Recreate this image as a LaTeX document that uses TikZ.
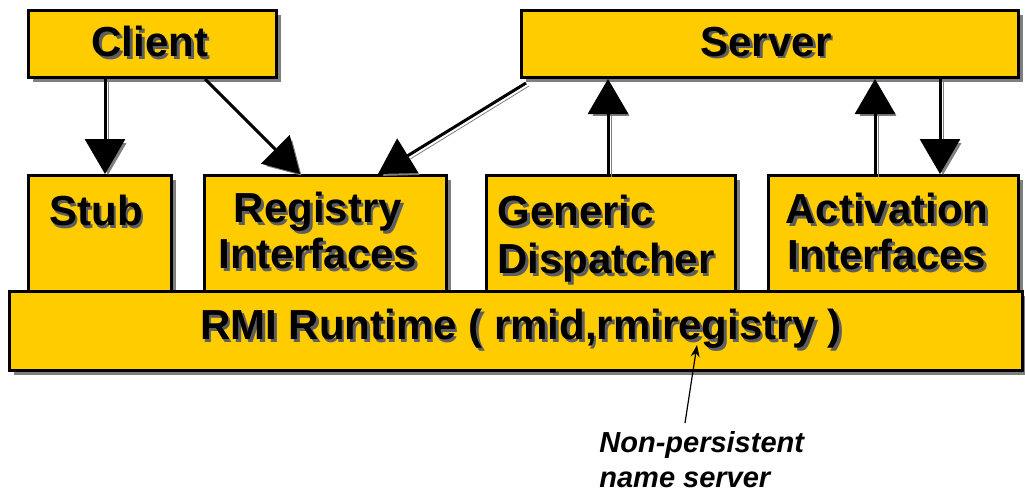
\documentclass[tikz,border=0pt]{standalone}
\usepackage{fontspec}
\setmainfont{Liberation Sans}
\usetikzlibrary{arrows.meta,shadows}
\definecolor{rmigold}{HTML}{FFCC00}
\definecolor{shadegray}{HTML}{5E5E5E}
\newcommand\shtxt[1]{\leavevmode\rlap{\kern1.3pt\raisebox{-1.3pt}{\textcolor{shadegray}{#1}}}#1}

\begin{document}
\begin{tikzpicture}[x=0.5pt,y=-0.5pt,
  box/.style={draw=black,line width=1.5pt,fill=rmigold,anchor=north west,inner sep=0pt,
    drop shadow={shadow xshift=2.1pt,shadow yshift=-2.1pt,fill=shadegray!80,opacity=1}},
  boxtext/.style={font=\fontsize{21}{23}\selectfont\bfseries,inner sep=0pt,align=center},
  arr/.style={line width=1.5pt,-{Triangle[width=20pt,length=17.5pt]},
    preaction={draw=shadegray!80,transform canvas={shift={(1.5pt,-1.5pt)}}}},
  note/.style={font=\fontsize{14.5}{17.5}\selectfont\bfseries\itshape,align=left,inner sep=0pt}]
\useasboundingbox (0,0) rectangle (1025,493);

% top row
\node[box,minimum width=124pt,minimum height=33.5pt] (client) at (27,9) {};
\node[box,minimum width=248.5pt,minimum height=33.5pt] (server) at (520,9) {};
\node[boxtext] (clienttxt) at (150,43) {\shtxt{Client}};
\node[boxtext] (servertxt) at (766,43) {\shtxt{Server}};

% middle row
\node[box,minimum width=71.5pt,minimum height=63pt] (stub) at (27,174) {};
\node[box,minimum width=121pt,minimum height=63pt] (registry) at (203,174) {};
\node[box,minimum width=124.5pt,minimum height=63pt] (dispatch) at (485,174) {};
\node[box,minimum width=125pt,minimum height=63pt] (activate) at (767,174) {};
\node[boxtext] (stubtxt) at (96,212) {\shtxt{Stub}};
\node[boxtext] (registrytxt) at (318,232) {\shtxt{Registry}\\\shtxt{Interfaces}};
\node[boxtext,align=left,anchor=west] (dispatchtxt) at (497,240) {\shtxt{Generic}\\[1pt]\shtxt{Dispatcher}};
\node[boxtext] (activatetxt) at (887,233) {\shtxt{Activation}\\\shtxt{Interfaces}};

% runtime
\node[box,minimum width=506.5pt,minimum height=39.5pt] (runtime) at (8,290) {};
\node[boxtext] (runtimetxt) at (521,330) {\shtxt{RMI Runtime ( rmid,rmiregistry )}};

% arrows
\draw[arr] ([xshift=39pt]client.south west) -- ([xshift=39pt]stub.north west);
\draw[arr] ([xshift=89pt]client.south west) -- ([xshift=48.5pt]registry.north west);
\draw[arr] ([xshift=3pt,yshift=-2pt]server.south west) -- ([xshift=87.5pt]registry.north west);
\draw[arr] ([xshift=61.5pt]dispatch.north west) -- ([xshift=44pt]server.south west);
\draw[arr] ([xshift=54pt]activate.north west) -- ([xshift=177.5pt]server.south west);
\draw[arr] ([xshift=210pt]server.south west) -- ([xshift=86.5pt]activate.north west);

% annotation
\node[note,anchor=north west] (nametxt) at (599,431) {Non-persistent\\name server};
\coordinate (regpt) at (697,345);
\draw[line width=0.6pt,-{Stealth[length=6pt,width=4.5pt]}] ([xshift=43pt,yshift=4pt]nametxt.north west) -- (regpt);
\end{tikzpicture}
\end{document}
